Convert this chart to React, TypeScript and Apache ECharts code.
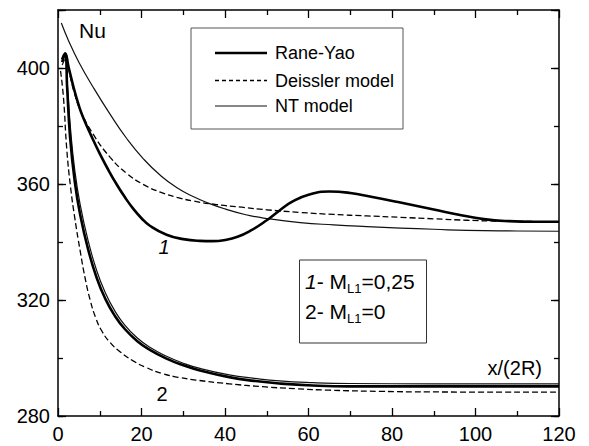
import React, { useEffect, useRef } from "react";
import * as echarts from "echarts";

// x/(2R) , Nu  — case 1 (M_L1 = 0,25)
const raneYao1: [number, number][] = [
  [1.0, 403], [1.7, 405], [2.5, 400.5], [3.7, 393.5], [5, 387], [6, 383], [8, 376.5],
  [10, 370.5], [12, 365], [14, 360], [16, 355.5], [18, 351.5], [20, 348.2], [22, 345.6],
  [26, 342.5], [30, 341], [34, 340.4], [37, 340.3], [40, 340.7], [43, 341.8], [46, 343.8],
  [50, 347.5], [53, 350.8], [56, 353.8], [60, 356.3], [65, 357.4], [70, 356.9], [75, 355.6],
  [82, 353.6], [90, 351.2], [96, 349.4], [102, 347.9], [108, 347.2], [114, 347], [120, 347],
];
const deissler1: [number, number][] = [
  [1.0, 403], [1.7, 404.5], [2.5, 400], [3.7, 392.5], [5.5, 385], [8.5, 377], [12.5, 369.2],
  [16.5, 363.6], [20.5, 359.8], [24.5, 357.2], [28.5, 355.4], [32.5, 354.1], [38, 352.9],
  [44, 352], [50, 351.1], [58, 350.2], [66, 349.5], [74, 349], [82, 348.5], [90, 348],
  [98, 347.5], [106, 347.2], [120, 347],
];
const nt1: [number, number][] = [
  [0.8, 415.5], [2.5, 409.5], [5, 402], [8.5, 393.2], [12.5, 384], [16.5, 375.6],
  [20.5, 368.6], [24.5, 363], [28.5, 358.7], [32.5, 355.6], [36, 353.4], [40, 351.4],
  [45, 349.4], [50, 348.1], [58, 346.7], [66, 345.9], [74, 345.3], [82, 344.8], [90, 344.4],
  [98, 344], [110, 343.8], [120, 343.7],
];
// case 2 (M_L1 = 0)
const raneYao2: [number, number][] = [
  [1.0, 402], [1.7, 405], [2.2, 393], [2.9, 376], [4, 361], [5.3, 349.5], [7.3, 337],
  [9.3, 327.5], [11.3, 320.5], [13.5, 314.8], [16, 310], [19, 305.8], [22, 302.8],
  [26, 299.8], [30, 297.5], [34, 295.7], [41, 293.4], [47, 292.1], [53, 291.2],
  [61, 290.5], [70, 290.2], [90, 290.2], [120, 290.2],
];
const deissler2: [number, number][] = [
  [0.6, 399], [1.3, 390], [2.1, 372], [3, 359], [4, 348.5], [5.3, 337], [6.5, 327.5],
  [7.7, 320], [9, 314], [10.5, 309.3], [12.5, 305.3], [15, 302], [18, 299], [21, 296.8],
  [25, 294.6], [29, 293.3], [33, 292.4], [41, 291.1], [49, 290.1], [57, 289.4],
  [65, 288.9], [77, 288.5], [89, 288.3], [120, 288.2],
];
const nt2: [number, number][] = [
  [1.0, 401], [1.7, 403], [2.3, 393], [3, 379], [4, 365], [5.3, 353], [7.3, 340],
  [9.3, 330], [11.3, 322.6], [13.5, 316.5], [16, 311.3], [19, 306.9], [22, 303.7],
  [26, 300.6], [30, 298.2], [34, 296.4], [41, 294.2], [47, 293], [53, 292.1],
  [61, 291.5], [70, 291.2], [90, 291.1], [120, 291.1],
];

const legendNames = ["Rane-Yao", "Deissler model", "NT model"];
const xRange = [0, 120];
const yRange = [280, 420];

const FONT = "'Liberation Sans', Arial, sans-serif";

export default function App() {
  const ref = useRef<HTMLDivElement>(null);
  useEffect(() => {
    document.body.style.margin = "0";
    if (!ref.current) return;
    const chart = echarts.init(ref.current, undefined, { renderer: "svg" });
    const axisLine = { show: true, lineStyle: { color: "#000", width: 1.5 } };
    const label = { fontSize: 20, color: "#000", fontFamily: FONT, margin: 8 };
    const xAx = (pos: string, showLabel: boolean) => ({
      type: "value",
      position: pos,
      min: xRange[0],
      max: xRange[1],
      interval: 20,
      axisLine,
      axisTick: { show: true, inside: true, length: 8, lineStyle: { color: "#000", width: 1.3 } },
      minorTick: { show: true, splitNumber: 2, length: 5, lineStyle: { color: "#000", width: 1.3 } },
      splitLine: { show: false },
      minorSplitLine: { show: false },
      axisLabel: { ...label, show: showLabel },
    });
    const yAx = (pos: string, interval: number, len: number, showLabel: boolean, showLine: boolean) => ({
      type: "value",
      position: pos,
      min: yRange[0],
      max: yRange[1],
      interval,
      axisLine: { ...axisLine, show: showLine },
      axisTick: { show: true, inside: true, length: len, lineStyle: { color: "#000", width: 1.3 } },
      splitLine: { show: false },
      axisLabel: {
        ...label,
        show: showLabel,
        formatter: (v: number) => (v % 40 === 0 && v <= 400 ? String(v) : ""),
      },
    });
    const mk = (data: [number, number][], kind: number) => ({
      type: "line",
      data,
      xAxisIndex: 0,
      yAxisIndex: 0,
      symbol: "none",
      smooth: 0.5,
      silent: true,
      lineStyle:
        kind === 0
          ? { color: "#000", width: 2.6, join: "round" }
          : kind === 1
          ? { color: "#000", width: 1.3, type: [6, 3] }
          : { color: "#111", width: 1.2, join: "round" },
      z: kind === 0 ? 3 : 2,
    });
    const txt = (text: string, x: number, y: number, extra: any = {}) => ({
      type: "text",
      x,
      y,
      z: 100,
      style: { text, fontSize: 20, fontFamily: FONT, fill: "#000", verticalAlign: "middle", ...extra },
    });
    const legendRows = [53, 80.5, 106];
    const legendStyles = [
      { stroke: "#000", lineWidth: 2.6 },
      { stroke: "#000", lineWidth: 1.3, lineDash: [4, 3] },
      { stroke: "#111", lineWidth: 1.2 },
    ];
    const rich = {
      n: { fontSize: 21, fontFamily: FONT, lineHeight: 26, fill: "#000" },
      i: { fontSize: 21, fontFamily: FONT, lineHeight: 26, fontStyle: "italic", fill: "#000" },
      s: { fontSize: 13, fontFamily: FONT, lineHeight: 10, verticalAlign: "bottom", fill: "#000" },
    };
    chart.setOption({
      animation: false,
      grid: { left: 58, right: 30, top: 10, bottom: 30, containLabel: false },
      xAxis: [xAx("bottom", true), xAx("top", false)],
      yAxis: [
        yAx("left", 40, 8, true, true),
        yAx("left", 20, 5, false, false),
        yAx("right", 40, 8, false, true),
        yAx("right", 20, 5, false, false),
      ],
      series: [
        mk(raneYao1, 0),
        mk(deissler1, 1),
        mk(nt1, 2),
        mk(raneYao2, 0),
        mk(deissler2, 1),
        mk(nt2, 2),
      ].map((s, i) => ({ ...s, name: legendNames[i % 3] })),
      graphic: [
        txt("Nu", 79, 30, { fontSize: 21 }),
        txt("x/(2R)", 542, 367.5, { align: "right" }),
        txt("1", 164, 247, { fontStyle: "italic", align: "center" }),
        txt("2", 162, 393.5, { align: "center" }),
        {
          type: "rect",
          z: 99,
          shape: { x: 191, y: 28, width: 212, height: 101 },
          style: { fill: "#fff", stroke: "#555", lineWidth: 1 },
        },
        ...legendRows.map((y, i) => ({
          type: "line",
          z: 100,
          shape: { x1: 215, y1: y, x2: 267, y2: y },
          style: legendStyles[i],
        })),
        ...legendRows.map((y, i) => txt(legendNames[i], 275, y, { fontSize: 18 })),
        {
          type: "rect",
          z: 99,
          shape: { x: 299.5, y: 260, width: 127, height: 83 },
          style: { fill: "#fff", stroke: "#333", lineWidth: 1 },
        },
        {
          type: "text",
          x: 305,
          y: 281.5,
          z: 100,
          style: { text: "{i|1}{n|- M}{s|L1}{n|=0,25}", rich, verticalAlign: "middle" },
        },
        {
          type: "text",
          x: 305,
          y: 311.5,
          z: 100,
          style: { text: "{n|2- M}{s|L1}{n|=0}", rich, verticalAlign: "middle" },
        },
      ],
    });
    return () => chart.dispose();
  }, []);
  return <div ref={ref} style={{ width: 589, height: 446 }} />;
}
